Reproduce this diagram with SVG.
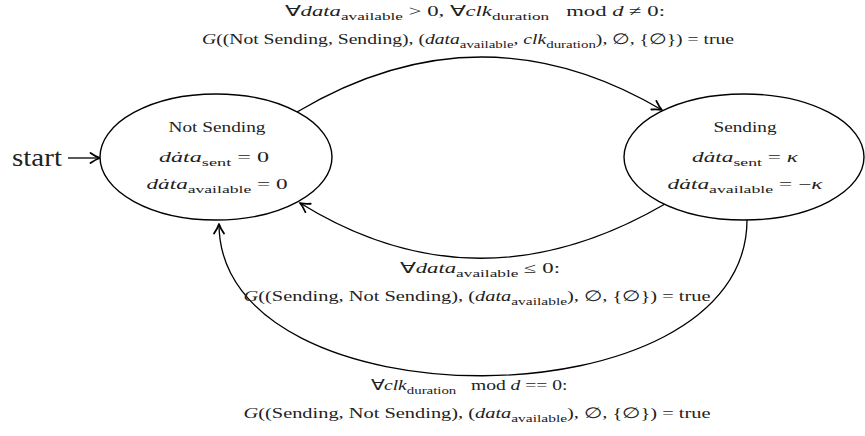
<svg xmlns="http://www.w3.org/2000/svg" width="865" height="436" viewBox="0 0 865 436">
<defs>
<style>
.st{fill:#fff;stroke:#000;stroke-width:1.4}
.e{fill:none;stroke:#000;stroke-width:1.3}
text{font-family:"Liberation Serif","Times New Roman",serif;fill:#222;font-size:14.5px}
.c{text-anchor:middle}
.i{font-style:italic}
.s{font-size:11px}
</style>
<marker id="ah" viewBox="0 0 12 12" refX="11" refY="6" markerWidth="12" markerHeight="12" orient="auto" markerUnits="userSpaceOnUse">
<path d="M1.5,1 Q7,4.8 11,6 Q7,7.2 1.5,11" fill="none" stroke="#000" stroke-width="1.8" stroke-linecap="round" stroke-linejoin="round"/>
</marker>
</defs>
<rect width="865" height="436" fill="#fff"/>
<g id="connectors">
<text x="12" y="166" style="font-size:25px" textLength="50" lengthAdjust="spacingAndGlyphs">start</text>
<path class="e" d="M68,158 L100,158" marker-end="url(#ah)"/>
<path class="e" d="M297,112 Q480.5,3 662,110" marker-end="url(#ah)"/>
<path class="e" d="M665,204 Q477.5,313 300,203" marker-end="url(#ah)"/>
<path class="e" d="M747,220 C747,427 219,427 219,224" marker-end="url(#ah)"/>
</g>
<g id="node-not-sending">
<ellipse class="st" cx="216" cy="157" rx="116" ry="63"/>
<text class="c" x="217" y="132" textLength="97" lengthAdjust="spacingAndGlyphs">Not Sending</text>
<text class="c" x="214" y="162" textLength="110" lengthAdjust="spacingAndGlyphs"><tspan class="i">da&#775;ta</tspan><tspan class="s" dy="3.5">sent</tspan><tspan dy="-3.5"> = 0</tspan></text>
<text class="c" x="217" y="189" textLength="141" lengthAdjust="spacingAndGlyphs"><tspan class="i">da&#775;ta</tspan><tspan class="s" dy="3.5">available</tspan><tspan dy="-3.5"> = 0</tspan></text>
</g>
<g id="node-sending">
<ellipse class="st" cx="744" cy="157" rx="120" ry="63"/>
<text class="c" x="745" y="132" textLength="63" lengthAdjust="spacingAndGlyphs">Sending</text>
<text class="c" x="745" y="162" textLength="106" lengthAdjust="spacingAndGlyphs"><tspan class="i">da&#775;ta</tspan><tspan class="s" dy="3.5">sent</tspan><tspan dy="-3.5"> = </tspan><tspan class="i">κ</tspan></text>
<text class="c" x="745" y="189" textLength="155" lengthAdjust="spacingAndGlyphs"><tspan class="i">da&#775;ta</tspan><tspan class="s" dy="3.5">available</tspan><tspan dy="-3.5"> = −</tspan><tspan class="i">κ</tspan></text>
</g>
<g id="labels">
<text class="c" x="475" y="16" textLength="380" lengthAdjust="spacingAndGlyphs">∀<tspan class="i">data</tspan><tspan class="s" dy="3.5">available</tspan><tspan dy="-3.5"> &gt; 0, ∀</tspan><tspan class="i">clk</tspan><tspan class="s" dy="3.5">duration</tspan><tspan dy="-3.5">&#160;&#160;&#160;mod </tspan><tspan class="i">d</tspan> ≠ 0:</text>
<text class="c" x="468" y="44" textLength="532" lengthAdjust="spacingAndGlyphs"><tspan class="i">G</tspan>((Not Sending, Sending), (<tspan class="i">data</tspan><tspan class="s" dy="3.5">available</tspan><tspan dy="-3.5">, </tspan><tspan class="i">clk</tspan><tspan class="s" dy="3.5">duration</tspan><tspan dy="-3.5">), ∅, {∅}) = true</tspan></text>
<text class="c" x="480" y="273" textLength="160" lengthAdjust="spacingAndGlyphs">∀<tspan class="i">data</tspan><tspan class="s" dy="3.5">available</tspan><tspan dy="-3.5"> ≤ 0:</tspan></text>
<text class="c" x="477" y="301" textLength="467" lengthAdjust="spacingAndGlyphs"><tspan class="i">G</tspan>((Sending, Not Sending), (<tspan class="i">data</tspan><tspan class="s" dy="3.5">available</tspan><tspan dy="-3.5">), ∅, {∅}) = true</tspan></text>
<text class="c" x="469" y="390" textLength="197" lengthAdjust="spacingAndGlyphs">∀<tspan class="i">clk</tspan><tspan class="s" dy="3.5">duration</tspan><tspan dy="-3.5">&#160;&#160;&#160;mod </tspan><tspan class="i">d</tspan> == 0:</text>
<text class="c" x="477" y="418" textLength="467" lengthAdjust="spacingAndGlyphs"><tspan class="i">G</tspan>((Sending, Not Sending), (<tspan class="i">data</tspan><tspan class="s" dy="3.5">available</tspan><tspan dy="-3.5">), ∅, {∅}) = true</tspan></text>
</g>
</svg>
